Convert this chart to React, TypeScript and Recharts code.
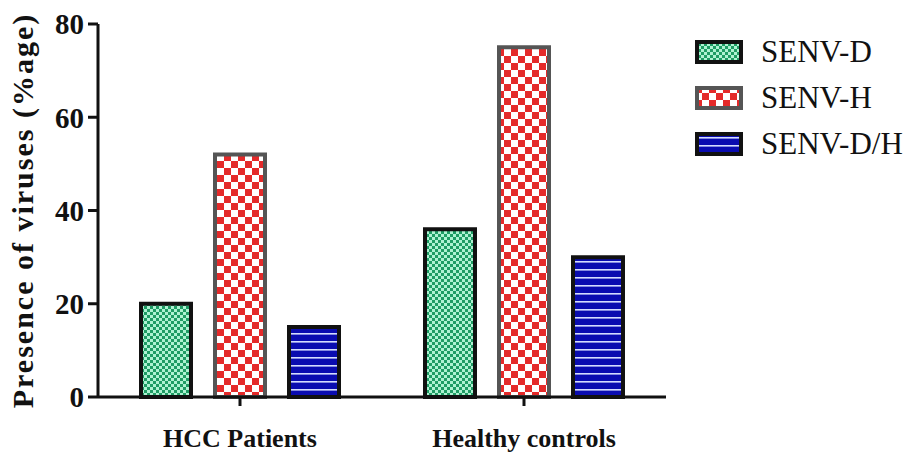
import { Bar, BarChart, Label, Legend, XAxis, YAxis } from 'recharts';

const categories = ['HCC Patients', 'Healthy controls'];
const senvD = [20, 36];
const senvH = [52, 75];
const senvDH = [15, 30];
const yTicks = [0, 20, 40, 60, 80];

const series = [
    { key: 'senvD', name: 'SENV-D', fill: 'url(#patD)', stroke: '#111' },
    { key: 'senvH', name: 'SENV-H', fill: 'url(#patH)', stroke: '#555' },
    { key: 'senvDH', name: 'SENV-D/H', fill: 'url(#patDH)', stroke: '#111' },
];

const data = categories.map((name, i) => ({
    name,
    senvD: senvD[i],
    senvH: senvH[i],
    senvDH: senvDH[i],
}));

const FONT = '"Liberation Serif", "Times New Roman", serif';

function LegendBox() {
    return (
        <div style={{ fontFamily: FONT, fontSize: 31, color: '#111' }}>
            {series.map((s) => (
                <div key={s.key} style={{ display: 'flex', alignItems: 'center', height: 46 }}>
                    <svg width={48} height={24} style={{ marginRight: 18 }}>
                        <rect x={2} y={2} width={44} height={20} fill={s.fill} stroke={s.stroke} strokeWidth={4} />
                    </svg>
                    <span>{s.name}</span>
                </div>
            ))}
        </div>
    );
}

export default function App() {
    return (
        <div style={{ position: 'absolute', left: 0, top: 0, width: 906, height: 457, background: '#fff' }}>
            <BarChart
                width={906}
                height={457}
                data={data}
                margin={{ top: 24, right: 29, left: 0, bottom: 0 }}
                barCategoryGap={41}
                barGap={24}
                barSize={50}
            >
                <defs>
                    <pattern id="patD" width={6} height={6} patternUnits="userSpaceOnUse">
                        <rect width={6} height={6} fill="#aef2d2" />
                        <rect x={0} y={0} width={3} height={3} fill="#1e9c64" />
                        <rect x={3} y={3} width={3} height={3} fill="#1e9c64" />
                    </pattern>
                    <pattern id="patH" width={14} height={14} patternUnits="userSpaceOnUse">
                        <rect width={14} height={14} fill="#ffffff" />
                        <rect x={0} y={0} width={7} height={7} fill="#e42a2a" />
                        <rect x={7} y={7} width={7} height={7} fill="#e42a2a" />
                    </pattern>
                    <pattern id="patDH" width={8} height={8} patternUnits="userSpaceOnUse">
                        <rect width={8} height={8} fill="#0a0cb0" />
                        <rect x={0} y={5} width={8} height={1.6} fill="#d4dcff" />
                    </pattern>
                </defs>
                <XAxis
                    dataKey="name"
                    axisLine={{ stroke: '#111', strokeWidth: 3 }}
                    tickLine={{ stroke: '#111', strokeWidth: 3 }}
                    tickSize={9}
                    tickMargin={23}
                    height={60}
                    tick={{ fill: '#111', fontFamily: FONT, fontSize: 26, fontWeight: 700 }}
                />
                <YAxis
                    domain={[0, 80]}
                    ticks={yTicks}
                    width={98}
                    axisLine={{ stroke: '#111', strokeWidth: 3 }}
                    tickLine={{ stroke: '#111', strokeWidth: 3 }}
                    tickSize={10}
                    tickMargin={4}
                    tick={{ fill: '#111', fontFamily: FONT, fontSize: 29, fontWeight: 700 }}
                >
                    <Label
                        value="Presence of viruses (%age)"
                        angle={-90}
                        position="insideLeft"
                        offset={22}
                        style={{ textAnchor: 'middle', fill: '#111', fontFamily: FONT, fontSize: 30, fontWeight: 700, letterSpacing: 2 }}
                    />
                </YAxis>
                <Legend
                    layout="vertical"
                    align="right"
                    verticalAlign="top"
                    content={() => <LegendBox />}
                    wrapperStyle={{ left: 695, top: 29, width: 211 }}
                />
                {series.map((s) => (
                    <Bar
                        key={s.key}
                        dataKey={s.key}
                        name={s.name}
                        fill={s.fill}
                        stroke={s.stroke}
                        strokeWidth={4}
                        isAnimationActive={false}
                    />
                ))}
            </BarChart>
        </div>
    );
}
